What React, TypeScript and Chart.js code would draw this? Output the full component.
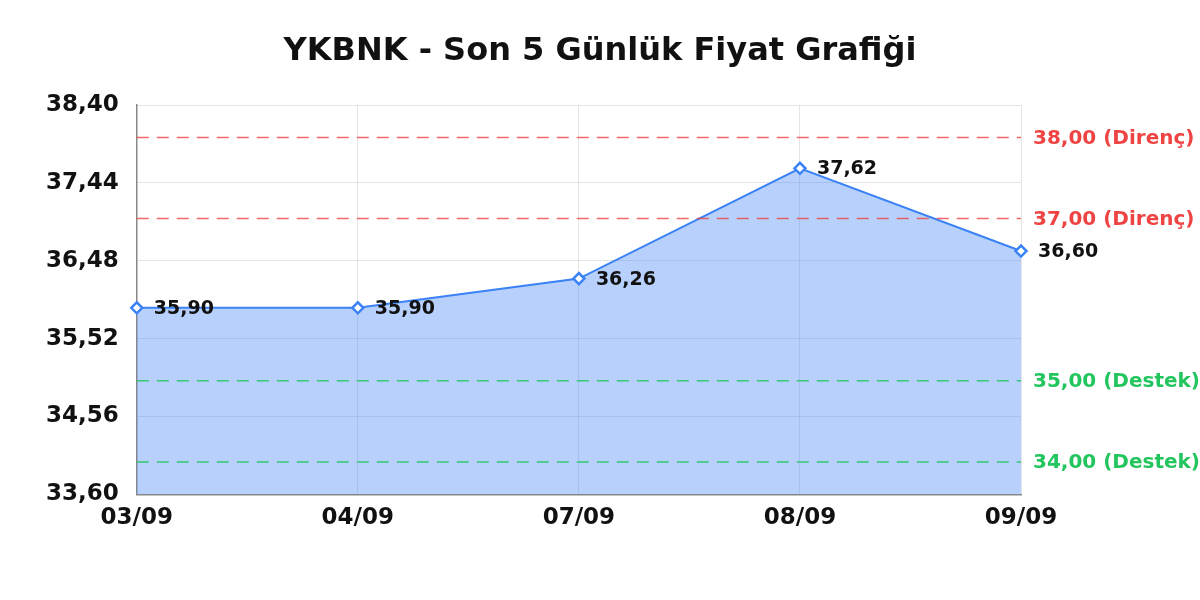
import { useEffect, useRef } from "react";
import { Chart, registerables, Plugin } from "chart.js";

Chart.register(...registerables);

const titleText = "YKBNK - Son 5 Günlük Fiyat Grafiği";
const days = ["03/09", "04/09", "07/09", "08/09", "09/09"];
const closePrices = [35.9, 35.9, 36.26, 37.62, 36.6];
const yTicks = [33.6, 34.56, 35.52, 36.48, 37.44, 38.4];
const resistanceLevels = [38, 37];
const supportLevels = [35, 34];

const fmt = (v: number) => v.toFixed(2).replace(".", ",");

const FONT = "'DejaVu Sans', sans-serif";

// title centred on the whole canvas, not on the plot
const pageTitle: Plugin<"line"> = {
  id: "pageTitle",
  afterDraw(chart) {
    const { ctx, width } = chart;
    ctx.save();
    ctx.font = `bold 32px ${FONT}`;
    ctx.fillStyle = "#111";
    ctx.textAlign = "center";
    ctx.textBaseline = "alphabetic";
    ctx.fillText(titleText, width / 2, 59.5);
    ctx.restore();
  },
};

// dashed support / resistance lines with their labels outside the plot
const levelLines: Plugin<"line"> = {
  id: "levelLines",
  afterDatasetsDraw(chart) {
    const { ctx, chartArea } = chart;
    const y = chart.scales.y;
    const draw = (levels: number[], line: string, text: string, word: string) => {
      levels.forEach((lv) => {
        const py = y.getPixelForValue(lv);
        ctx.save();
        ctx.strokeStyle = line;
        ctx.lineWidth = 1.5;
        ctx.setLineDash([12, 8]);
        ctx.beginPath();
        ctx.moveTo(chartArea.left, py);
        ctx.lineTo(chartArea.right, py);
        ctx.stroke();
        ctx.setLineDash([]);
        ctx.fillStyle = text;
        ctx.font = `bold 20px ${FONT}`;
        ctx.textAlign = "left";
        ctx.textBaseline = "middle";
        ctx.fillText(`${fmt(lv)} (${word})`, chartArea.right + 12, py + 1);
        ctx.restore();
      });
    };
    draw(resistanceLevels, "rgba(239, 68, 68, 0.8)", "#ef4444", "Direnç");
    draw(supportLevels, "rgba(34, 197, 94, 0.85)", "#22c55e", "Destek");
  },
};

// value labels next to each point
const pointLabels: Plugin<"line"> = {
  id: "pointLabels",
  afterDraw(chart) {
    const { ctx } = chart;
    const meta = chart.getDatasetMeta(0);
    ctx.save();
    ctx.font = `bold 19px ${FONT}`;
    ctx.fillStyle = "#111";
    ctx.textAlign = "left";
    ctx.textBaseline = "middle";
    meta.data.forEach((pt, i) => {
      ctx.fillText(fmt(closePrices[i]), pt.x + 17, pt.y + 1);
    });
    ctx.restore();
  },
};

export default function App() {
  const canvasRef = useRef<HTMLCanvasElement>(null);

  useEffect(() => {
    if (!canvasRef.current) return;
    Chart.defaults.font.family = FONT;

    const chart = new Chart(canvasRef.current, {
      type: "line",
      data: {
        labels: days,
        datasets: [
          {
            label: "YKBNK",
            data: closePrices,
            borderColor: "#3b82f6",
            borderWidth: 2,
            backgroundColor: "rgba(59, 130, 246, 0.37)",
            fill: true,
            tension: 0,
            pointStyle: "rectRot",
            pointRadius: 5.5,
            pointBorderWidth: 2.5,
            pointBackgroundColor: "#fff",
            pointBorderColor: "#3b82f6",
          },
        ],
      },
      options: {
        animation: false,
        responsive: true,
        maintainAspectRatio: false,
        layout: { padding: { left: 28, right: 179, bottom: 58, top: 105 } },
        plugins: {
          legend: { display: false },
          tooltip: { enabled: false },
          title: { display: false },
        },
        scales: {
          x: {
            type: "category",
            offset: false,
            grid: { color: "rgba(0,0,0,0.1)", drawTicks: false },
            border: { color: "#888", width: 1.5 },
            ticks: {
              color: "#111",
              padding: 10,
              maxRotation: 0,
              font: { size: 23, weight: "bold", family: FONT },
            },
          },
          y: {
            min: 33.6,
            max: 38.4,
            afterBuildTicks: (axis) => {
              axis.ticks = yTicks.map((v) => ({ value: v }));
            },
            grid: { color: "rgba(0,0,0,0.1)", drawTicks: false },
            border: { color: "#888", width: 1.5 },
            ticks: {
              color: "#111",
              padding: 18,
              font: { size: 23, weight: "bold", family: FONT },
              callback: (v) => fmt(Number(v)),
            },
          },
        },
      },
      plugins: [levelLines, pointLabels, pageTitle],
    });

    return () => chart.destroy();
  }, []);

  return (
    <div style={{ position: "absolute", left: 0, top: 0, width: 1200, height: 600, background: "#fff" }}>
      <canvas ref={canvasRef} />
    </div>
  );
}
